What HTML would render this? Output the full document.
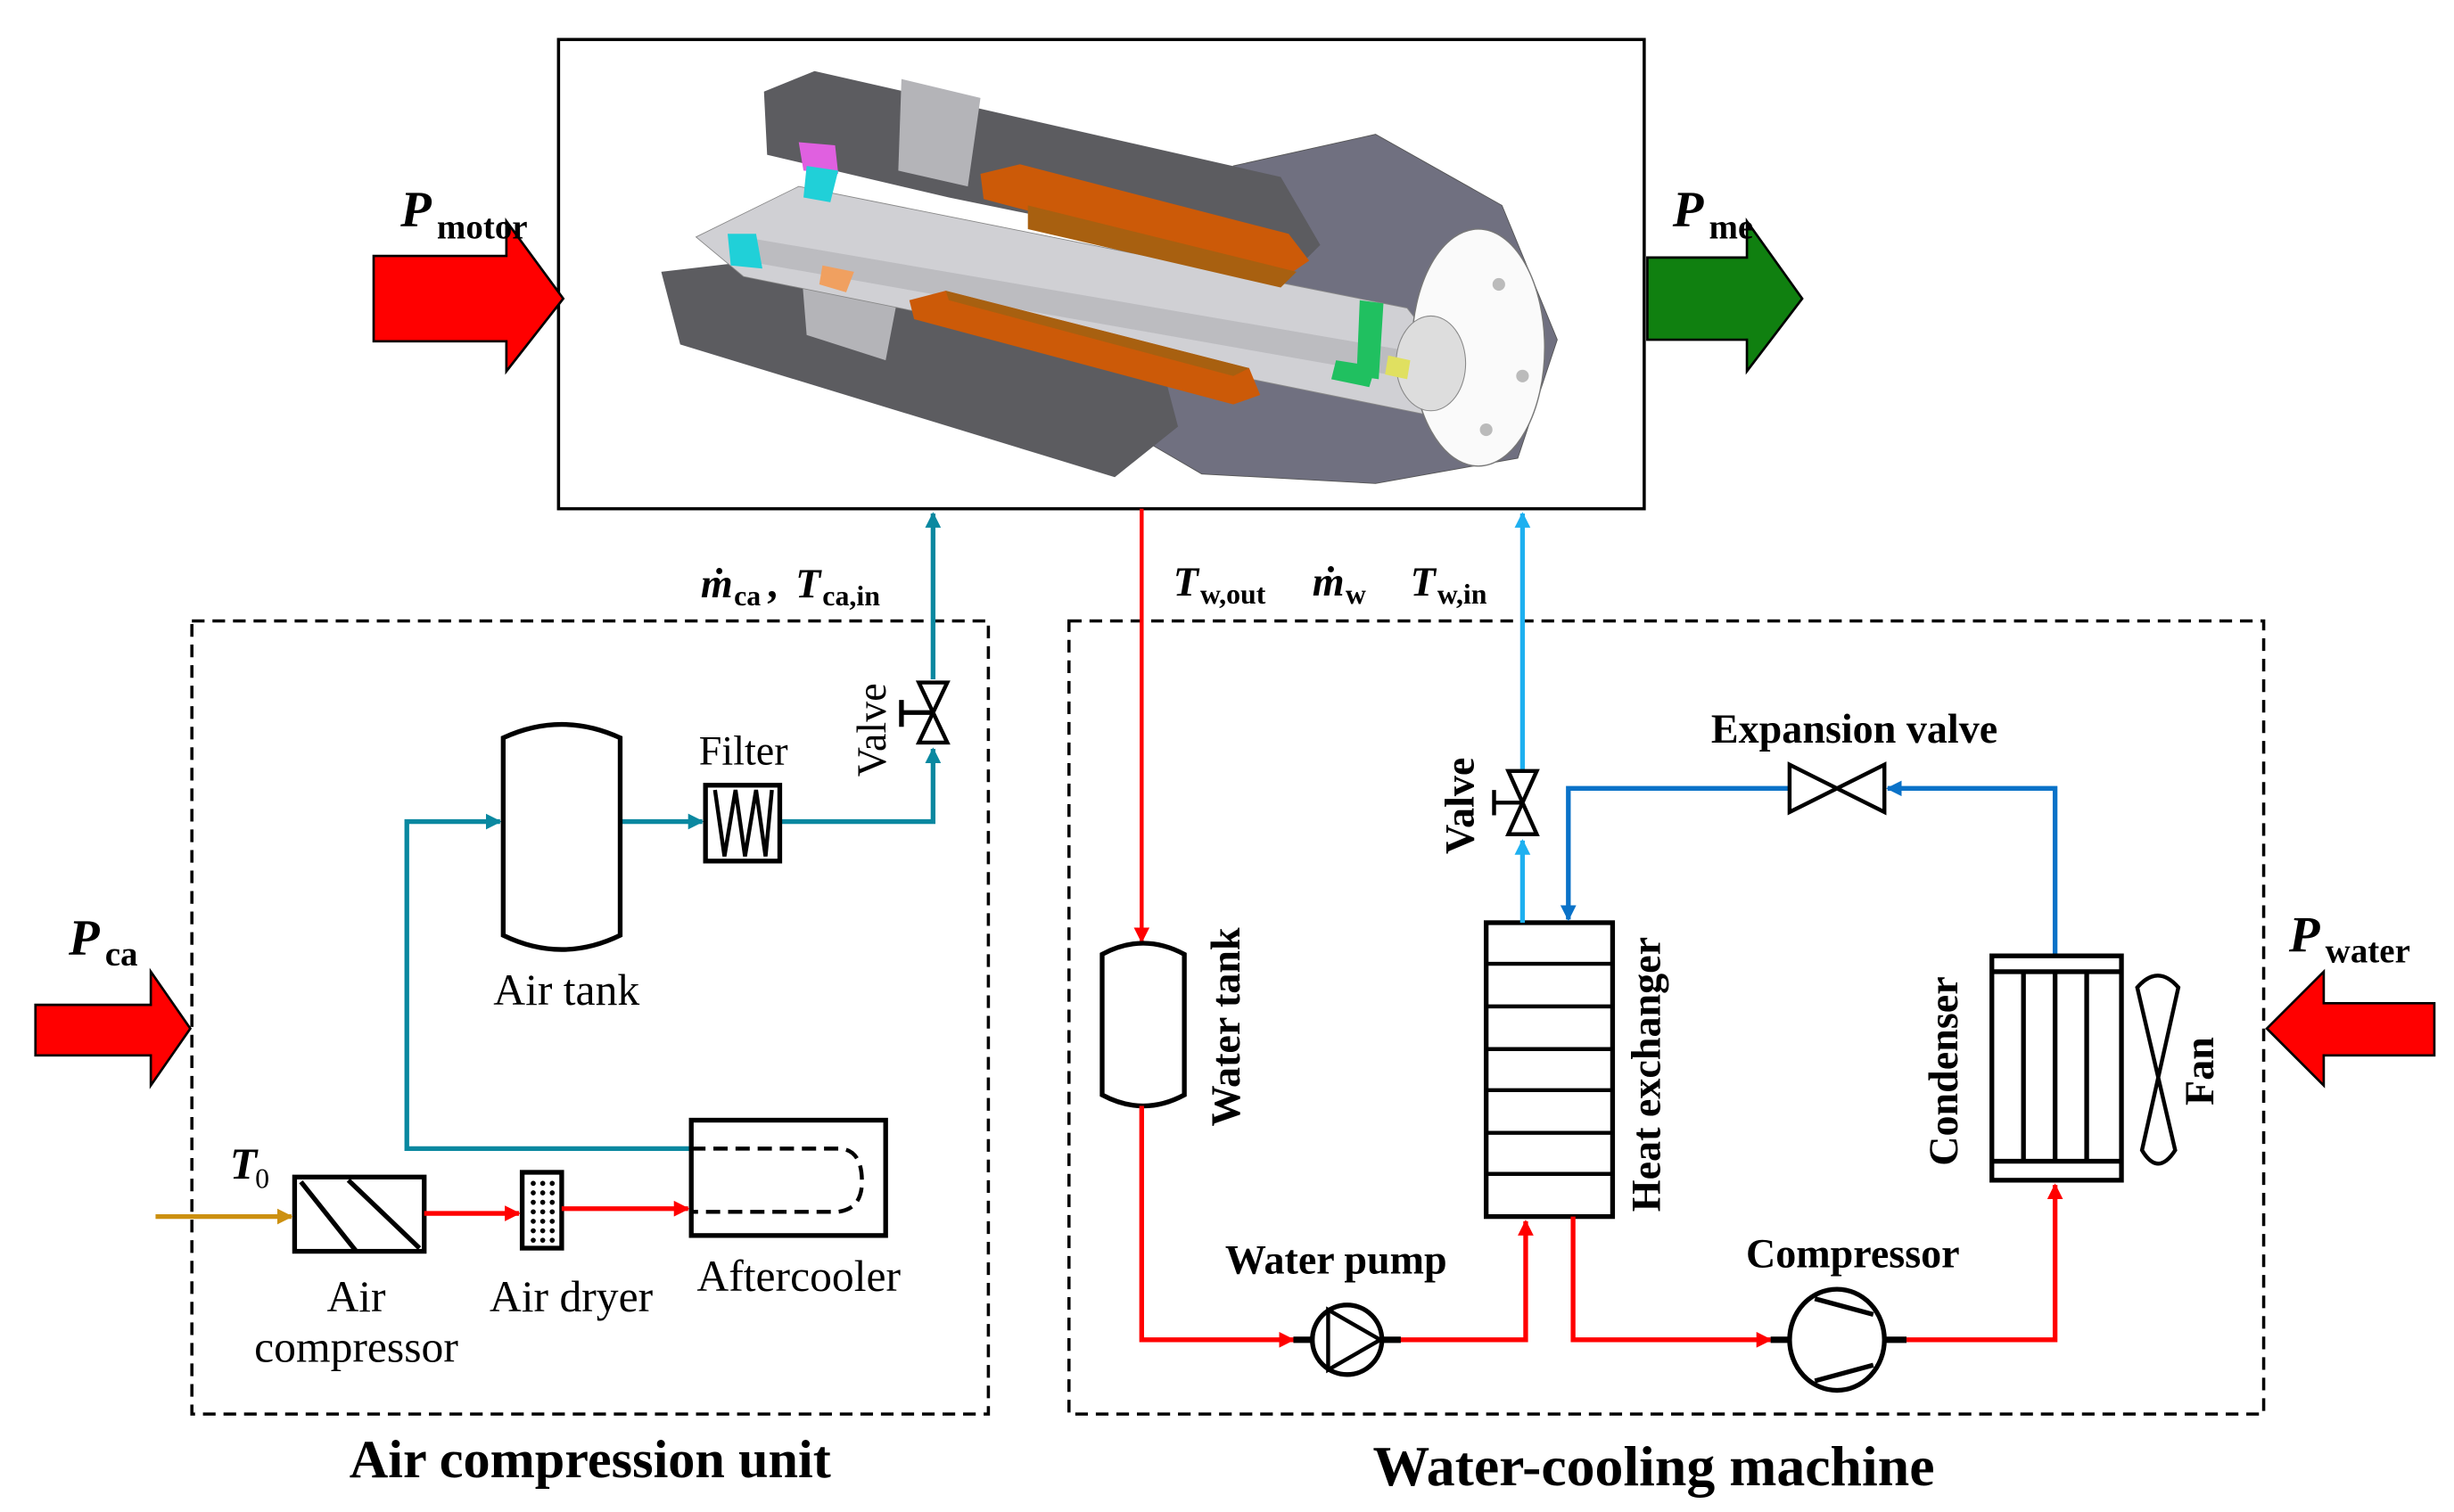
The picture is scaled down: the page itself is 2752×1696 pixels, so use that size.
<!DOCTYPE html>
<html><head><meta charset="utf-8">
<style>
html,body{margin:0;padding:0;background:#fff;}
svg{display:block;}
text{font-family:"Liberation Serif",serif;}
.b{font-weight:bold;}
</style></head>
<body>
<svg width="2752" height="1696" viewBox="0 0 1552 957" xmlns="http://www.w3.org/2000/svg">
<defs>
<marker id="ar" markerWidth="10" markerHeight="10" refX="9" refY="5" orient="auto" markerUnits="userSpaceOnUse"><path d="M0,0 L10,5 L0,10 z" fill="#ff0000"/></marker>
<marker id="at" markerWidth="10" markerHeight="10" refX="9" refY="5" orient="auto" markerUnits="userSpaceOnUse"><path d="M0,0 L10,5 L0,10 z" fill="#0a88a0"/></marker>
<marker id="ab" markerWidth="10" markerHeight="10" refX="9" refY="5" orient="auto" markerUnits="userSpaceOnUse"><path d="M0,0 L10,5 L0,10 z" fill="#0a72c8"/></marker>
<marker id="al" markerWidth="10" markerHeight="10" refX="9" refY="5" orient="auto" markerUnits="userSpaceOnUse"><path d="M0,0 L10,5 L0,10 z" fill="#1eb0f0"/></marker>
<marker id="ag" markerWidth="10" markerHeight="10" refX="9" refY="5" orient="auto" markerUnits="userSpaceOnUse"><path d="M0,0 L10,5 L0,10 z" fill="#cc9010"/></marker>
</defs>

<!-- main box -->
<rect x="353" y="25" width="687" height="297" fill="#fff" stroke="#000" stroke-width="2"/>
<!-- spindle approximation -->
<polygon points="780,105 870,85 950,130 985,215 960,290 870,306 760,300 700,265" fill="#707080" stroke="#555" stroke-width="0.5"/>
<polygon points="483,58 515,45 810,112 835,155 820,170 600,125 485,98" fill="#5c5c60"/>
<polygon points="418,172 470,166 735,232 745,270 705,302 430,218" fill="#5c5c60"/>
<polygon points="505,150 530,140 575,150 560,228 510,212" fill="#b4b4b8"/>
<polygon points="570,50 620,62 612,118 568,108" fill="#b4b4b8"/>
<polygon points="440,150 505,118 890,195 925,240 900,262 470,175" fill="#d0d0d4" stroke="#888" stroke-width="0.5"/>
<polygon points="470,150 890,222 895,240 470,165" fill="#bcbcc0"/>
<polygon points="620,110 645,104 815,148 828,165 812,176 622,126" fill="#cc5a08"/>
<polygon points="650,130 820,172 810,182 650,145" fill="#a86010"/>
<polygon points="575,190 598,184 790,233 797,250 780,256 578,202" fill="#cc5a08"/>
<polygon points="598,184 790,233 780,238 600,190" fill="#a86010"/>
<ellipse cx="935" cy="220" rx="42" ry="75" fill="#fafafa" stroke="#777" stroke-width="0.8"/>
<ellipse cx="905" cy="230" rx="22" ry="30" fill="#ddd" stroke="#888" stroke-width="0.6"/>
<circle cx="948" cy="180" r="4" fill="#bbb"/><circle cx="963" cy="238" r="4" fill="#bbb"/><circle cx="940" cy="272" r="4" fill="#bbb"/>
<polygon points="505,90 528,92 530,110 508,108" fill="#e060e0"/>
<polygon points="510,105 530,108 525,128 508,125" fill="#20d0d8"/>
<polygon points="460,148 478,148 482,170 462,168" fill="#20d0d8"/>
<polygon points="860,190 875,192 872,240 858,238" fill="#20c060"/>
<polygon points="845,228 870,232 866,245 842,240" fill="#20c060"/>
<polygon points="878,225 892,228 890,240 876,237" fill="#e0e060"/>
<polygon points="520,168 540,172 535,185 518,180" fill="#f0a060"/>

<!-- P motor arrow -->
<polygon points="236,162 320,162 320,140 356,189 320,235 320,216 236,216" fill="#ff0000" stroke="#000" stroke-width="1.5"/>
<text x="253" y="143" font-size="32" class="b" font-style="italic">P</text><text x="276" y="151" font-size="22" class="b">motor</text>
<!-- P me arrow -->
<polygon points="1042,163 1105,163 1105,140 1140,189 1105,235 1105,215 1042,215" fill="#108010" stroke="#000" stroke-width="1.5"/>
<text x="1058" y="143" font-size="32" class="b" font-style="italic">P</text><text x="1081" y="151" font-size="22" class="b">me</text>

<!-- Air compression unit -->
<rect x="121" y="393" width="504" height="502" fill="none" stroke="#000" stroke-width="2" stroke-dasharray="8,5"/>
<text x="373" y="935" font-size="34" class="b" text-anchor="middle">Air compression unit</text>
<polygon points="22,636 95,636 95,615 120,651 95,687 95,668 22,668" fill="#ff0000" stroke="#000" stroke-width="1.5"/>
<text x="43" y="604" font-size="32" class="b" font-style="italic">P</text><text x="66" y="611" font-size="22" class="b">ca</text>

<!-- teal lines -->
<path d="M590,430 L590,325" stroke="#0a88a0" stroke-width="3" fill="none" marker-end="url(#at)"/>
<path d="M493,520 L590,520 L590,474" stroke="#0a88a0" stroke-width="3" fill="none" marker-end="url(#at)"/>
<path d="M392,520 L444,520" stroke="#0a88a0" stroke-width="3" fill="none" marker-end="url(#at)"/>
<path d="M437,727 L257,727 L257,520 L316,520" stroke="#0a88a0" stroke-width="3" fill="none" marker-end="url(#at)"/>
<!-- valve -->
<polygon points="581,432 599,432 581,470 599,470" fill="#fff" stroke="#000" stroke-width="2.5"/>
<path d="M570,451 L590,451 M570,443 L570,460" stroke="#000" stroke-width="3"/>
<text transform="translate(560,462) rotate(-90)" font-size="26" text-anchor="middle">Valve</text>
<!-- filter -->
<rect x="446" y="497" width="47" height="48" fill="#fff" stroke="#000" stroke-width="3"/>
<path d="M452,500 L458,542 L465,500 L471,542 L478,500 L484,542 L488,500" stroke="#000" stroke-width="2.5" fill="none"/>
<text x="470" y="484" font-size="26" text-anchor="middle">Filter</text>
<!-- air tank -->
<path d="M318,467 Q355,450 392,467 L392,592 Q355,610 318,592 Z" fill="#fff" stroke="#000" stroke-width="3"/>
<text x="358" y="636" font-size="28" text-anchor="middle">Air tank</text>
<!-- aftercooler -->
<rect x="437" y="709" width="123" height="73" fill="#fff" stroke="#000" stroke-width="3"/>
<path d="M437,727 L530,727 Q545,727 545,748 Q545,765 530,767 L437,767" stroke="#000" stroke-width="2.5" stroke-dasharray="9,5" fill="none"/>
<text x="505" y="817" font-size="28" text-anchor="middle">Aftercooler</text>
<!-- compressor -->
<rect x="186" y="745" width="82" height="47" fill="#fff" stroke="#000" stroke-width="3"/>
<path d="M190,748 L225,792 M220,747 L265,790" stroke="#000" stroke-width="3"/>
<text x="225" y="830" font-size="28" text-anchor="middle">Air</text>
<text x="225" y="862" font-size="28" text-anchor="middle">compressor</text>
<!-- dryer -->
<rect x="330" y="742" width="25" height="48" fill="#fff" stroke="#000" stroke-width="3"/>
<g fill="#000">
<circle cx="337" cy="749" r="1.6"/><circle cx="343" cy="749" r="1.6"/><circle cx="349" cy="749" r="1.6"/>
<circle cx="337" cy="755" r="1.6"/><circle cx="343" cy="755" r="1.6"/><circle cx="349" cy="755" r="1.6"/>
<circle cx="337" cy="761" r="1.6"/><circle cx="343" cy="761" r="1.6"/><circle cx="349" cy="761" r="1.6"/>
<circle cx="337" cy="767" r="1.6"/><circle cx="343" cy="767" r="1.6"/><circle cx="349" cy="767" r="1.6"/>
<circle cx="337" cy="773" r="1.6"/><circle cx="343" cy="773" r="1.6"/><circle cx="349" cy="773" r="1.6"/>
<circle cx="337" cy="779" r="1.6"/><circle cx="343" cy="779" r="1.6"/><circle cx="349" cy="779" r="1.6"/>
<circle cx="337" cy="785" r="1.6"/><circle cx="343" cy="785" r="1.6"/><circle cx="349" cy="785" r="1.6"/>
</g>
<text x="361" y="830" font-size="28" text-anchor="middle">Air dryer</text>
<path d="M268,768 L328,768" stroke="#ff0000" stroke-width="3" marker-end="url(#ar)"/>
<path d="M355,765 L435,765" stroke="#ff0000" stroke-width="3" marker-end="url(#ar)"/>
<path d="M98,770 L184,770" stroke="#cc9010" stroke-width="3" marker-end="url(#ag)"/>
<text x="145" y="746" font-size="28" class="b" font-style="italic">T</text><text x="161" y="752" font-size="18">0</text>
<!-- m_ca label -->
<text x="443" y="378" font-size="26" class="b" font-style="italic">ṁ</text><text x="464" y="383" font-size="18" class="b">ca</text><text x="485" y="378" font-size="26" class="b">,</text>
<text x="503" y="378" font-size="26" class="b" font-style="italic">T</text><text x="520" y="383" font-size="18" class="b">ca,in</text>

<!-- Water-cooling machine -->
<rect x="676" y="393" width="756" height="502" fill="none" stroke="#000" stroke-width="2" stroke-dasharray="8,5"/>
<text x="1046" y="940" font-size="36" class="b" text-anchor="middle">Water-cooling machine</text>
<polygon points="1540,635 1470,635 1470,615 1434,651 1470,687 1470,668 1540,668" fill="#ff0000" stroke="#000" stroke-width="1.5"/>
<text x="1448" y="602" font-size="32" class="b" font-style="italic">P</text><text x="1471" y="609" font-size="22" class="b">water</text>

<text x="742" y="377" font-size="26" class="b" font-style="italic">T</text><text x="759" y="382" font-size="18" class="b">w,out</text>
<text x="830" y="377" font-size="26" class="b" font-style="italic">ṁ</text><text x="851" y="382" font-size="18" class="b">w</text>
<text x="892" y="377" font-size="26" class="b" font-style="italic">T</text><text x="909" y="382" font-size="18" class="b">w,in</text>

<!-- red line down to water tank -->
<path d="M722,322 L722,596" stroke="#ff0000" stroke-width="2.5" fill="none" marker-end="url(#ar)"/>
<path d="M697,604 Q723,590 749,604 L749,693 Q723,707 697,693 Z" fill="#fff" stroke="#000" stroke-width="3"/>
<text transform="translate(784,650) rotate(-90)" font-size="26" class="b" text-anchor="middle">Water tank</text>
<path d="M722,700 L722,848 L818,848" stroke="#ff0000" stroke-width="3" fill="none" marker-end="url(#ar)"/>
<!-- pump -->
<path d="M818,848 L830,848 M874,848 L886,848" stroke="#000" stroke-width="4"/>
<circle cx="852" cy="848" r="22" fill="#fff" stroke="#000" stroke-width="3"/>
<path d="M840,829 L840,867 L873,848 Z" fill="none" stroke="#000" stroke-width="2.5"/>
<text x="845" y="806" font-size="26" class="b" text-anchor="middle">Water pump</text>
<path d="M886,848 L965,848 L965,773" stroke="#ff0000" stroke-width="3" fill="none" marker-end="url(#ar)"/>
<!-- heat exchanger -->
<rect x="940" y="584" width="80" height="186" fill="#fff" stroke="#000" stroke-width="3"/>
<path d="M940,610 H1020 M940,637 H1020 M940,664 H1020 M940,690 H1020 M940,717 H1020 M940,743 H1020" stroke="#000" stroke-width="2.5"/>
<text transform="translate(1050,680) rotate(-90)" font-size="26" class="b" text-anchor="middle">Heat exchanger</text>
<!-- light blue -->
<path d="M963,584 L963,532" stroke="#1eb0f0" stroke-width="3" marker-end="url(#al)"/>
<path d="M963,488 L963,325" stroke="#1eb0f0" stroke-width="3" marker-end="url(#al)"/>
<polygon points="954,488 972,488 954,528 972,528" fill="#fff" stroke="#000" stroke-width="2.5"/>
<path d="M945,508 L963,508 M945,500 L945,516" stroke="#000" stroke-width="2.5"/>
<text transform="translate(932,510) rotate(-90)" font-size="26" class="b" text-anchor="middle">Valve</text>
<!-- blue refrigerant -->
<path d="M1132,499 L992,499 L992,582" stroke="#0a72c8" stroke-width="3" fill="none" marker-end="url(#ab)"/>
<path d="M1300,605 L1300,499 L1194,499" stroke="#0a72c8" stroke-width="3" fill="none" marker-end="url(#ab)"/>
<polygon points="1132,484 1132,514 1192,484 1192,514" fill="#fff" stroke="#000" stroke-width="2.5"/>
<text x="1173" y="470" font-size="26" class="b" text-anchor="middle">Expansion valve</text>
<!-- condenser -->
<rect x="1260" y="605" width="82" height="142" fill="#fff" stroke="#000" stroke-width="3"/>
<path d="M1260,615 H1342 M1260,735 H1342 M1280,615 V735 M1300,615 V735 M1320,615 V735" stroke="#000" stroke-width="3"/>
<text transform="translate(1238,678) rotate(-90)" font-size="26" class="b" text-anchor="middle">Condenser</text>
<path d="M1352,625 Q1365,610 1378,625 L1355,728 Q1365,745 1376,728 Z" fill="#fff" stroke="#000" stroke-width="2.5"/>
<text transform="translate(1400,678) rotate(-90)" font-size="26" class="b" text-anchor="middle">Fan</text>
<!-- red to compressor -->
<path d="M995,770 L995,848 L1120,848" stroke="#ff0000" stroke-width="3" fill="none" marker-end="url(#ar)"/>
<path d="M1120,848 L1132,848 M1192,848 L1206,848" stroke="#000" stroke-width="4"/>
<ellipse cx="1162" cy="848" rx="30" ry="32" fill="#fff" stroke="#000" stroke-width="3"/>
<path d="M1148,822 L1185,832 M1148,874 L1185,864" stroke="#000" stroke-width="3"/>
<text x="1172" y="802" font-size="26" class="b" text-anchor="middle">Compressor</text>
<path d="M1206,848 L1300,848 L1300,750" stroke="#ff0000" stroke-width="3" fill="none" marker-end="url(#ar)"/>
</svg>
</body></html>
